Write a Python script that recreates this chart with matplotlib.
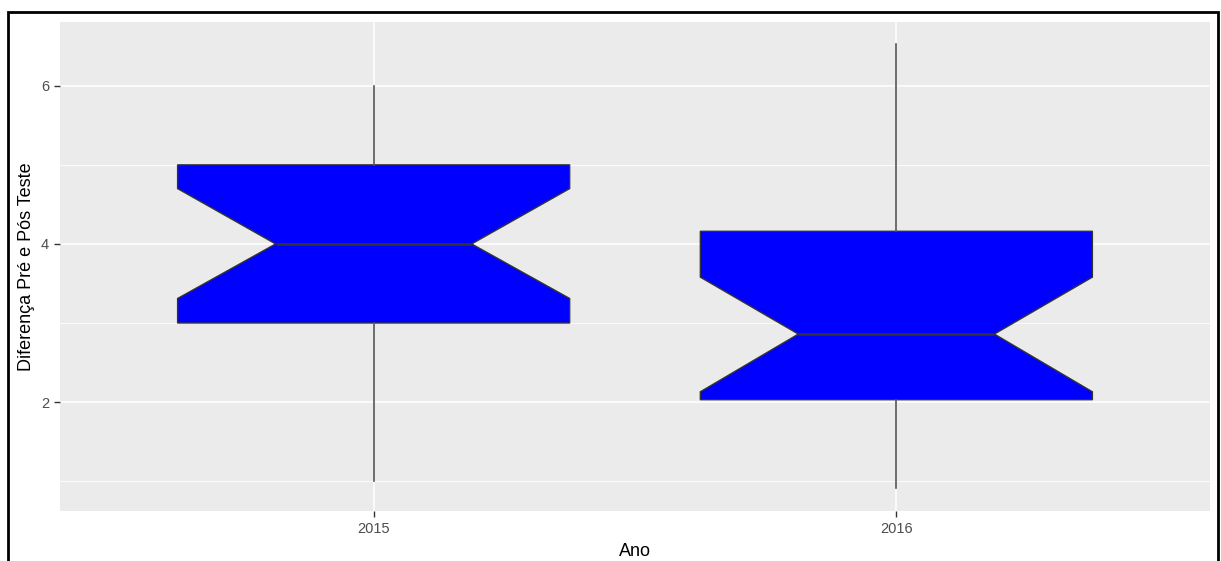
import matplotlib
matplotlib.use('Agg')
import matplotlib.pyplot as plt
from matplotlib.patches import Rectangle
from matplotlib.ticker import FixedLocator

plt.rcParams['font.family'] = ['Liberation Sans', 'DejaVu Sans']

# values
anos = ['2015', '2016']
whis_lo = [1.0, 0.91]
q1 = [3.0, 2.03]
mediana = [4.0, 2.86]
q3 = [5.0, 4.16]
whis_hi = [6.0, 6.53]
notch_lo = [3.31, 2.13]
notch_hi = [4.70, 3.58]

stats = []
for i in range(len(anos)):
    stats.append(dict(label=anos[i], whislo=whis_lo[i], q1=q1[i], med=mediana[i],
                      q3=q3[i], whishi=whis_hi[i], cilo=notch_lo[i],
                      cihi=notch_hi[i], fliers=[]))

fig = plt.figure(figsize=(12.21, 5.61), dpi=100)
ax = fig.add_axes([60/1221, 1-510.7/561, 1150/1221, 488.7/561])
ax.set_facecolor('#EBEBEB')

ax.bxp(stats, positions=[1, 2], widths=0.75, shownotches=True, patch_artist=True,
       showcaps=False,
       boxprops=dict(facecolor='#0000FF', edgecolor='#333333', linewidth=1.0),
       medianprops=dict(color='#333333', linewidth=2.0),
       whiskerprops=dict(color='#555555', linewidth=1.2),
       zorder=3)

ax.set_xlim(0.4, 2.6)
ax.set_ylim(0.626, 6.807)
ax.set_yticks([2, 4, 6])
ax.set_yticklabels(['2', '4', '6'])
ax.yaxis.set_minor_locator(FixedLocator([1, 3, 5]))
ax.set_xticks([1, 2])
ax.set_xticklabels(anos)

ax.grid(True, which='major', color='white', linewidth=1.1, zorder=0)
ax.grid(True, which='minor', axis='y', color='white', linewidth=0.6, zorder=0)
ax.set_axisbelow(True)
for s in ax.spines.values():
    s.set_visible(False)

ax.tick_params(axis='both', which='major', length=4, width=1.0, color='#333333',
               labelcolor='#4D4D4D', labelsize=10.5, pad=4)
ax.tick_params(axis='y', which='minor', length=0)

ax.set_xlabel('Ano', fontsize=13, color='black', labelpad=5)
ax.set_ylabel('Diferença Pré e Pós Teste', fontsize=13, color='black', labelpad=4)

# moldura preta em volta da figura
fig.patches.append(Rectangle((8/1221, -0.02), 1210/1221, (561-12)/561 + 0.02,
                             transform=fig.transFigure, fill=False,
                             edgecolor='black', linewidth=2))

fig.savefig('out.png', dpi=100)
